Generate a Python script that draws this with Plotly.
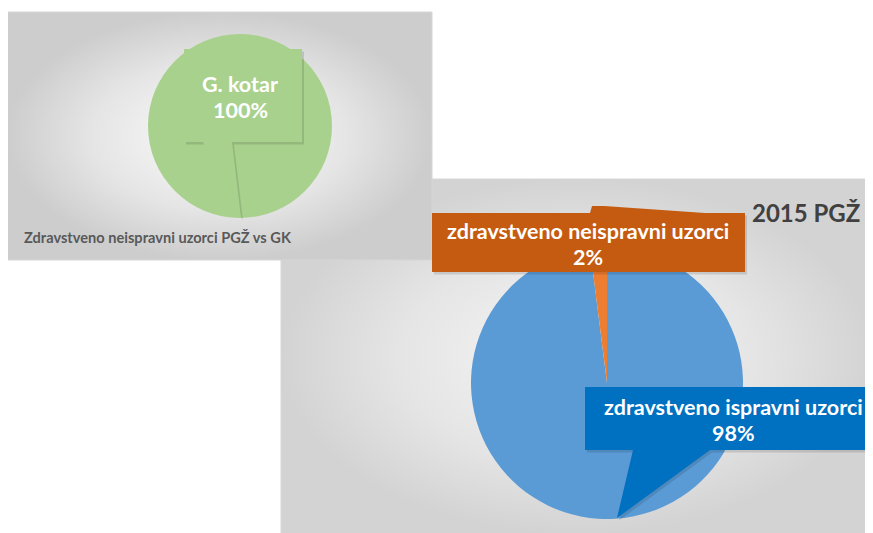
import plotly.graph_objects as go

# The page body has an 8px margin, so the figure is laid out at (8,8)
OFF = 8
W, H = 873, 533
FW, FH = W - OFF, H - OFF

# ---- data ----
left_labels = ["G. kotar"]
left_values = [100]
right_labels = ["zdravstveno ispravni uzorci", "zdravstveno neispravni uzorci"]
right_values = [98, 2]
left_title = "Zdravstveno neispravni uzorci PGŽ vs GK"
right_title = "2015 PGŽ"

GREEN = "#A9D18E"
BLUE = "#5B9BD5"
ORANGE = "#ED7D31"
BLUE_BOX = "#0070C0"
ORANGE_BOX = "#C55A11"
FONT = "Lato"


def px_x(v):
    return (v - OFF) / FW


def px_y(v):
    return 1 - (v - OFF) / FH


fig = go.Figure()


def panel(x0, y0, x1, y1, c_center, c_edge):
    fig.add_trace(go.Scatter(
        x=[x0, x1, x1, x0, x0], y=[y0, y0, y1, y1, y0],
        mode="lines", fill="toself", line=dict(width=1, color="#d6d6d6"),
        fillgradient=dict(type="radial", colorscale=[[0, c_center], [0.6, "#e5e5e5"], [1, c_edge]]),
        hoverinfo="skip", showlegend=False))


# right panel first (behind), left panel over it
panel(281, 179, 874, 534, "#f6f6f6", "#d3d3d3")
panel(7, 12, 432, 260, "#fcfcfc", "#cdcdcd")

# pies
fig.add_trace(go.Pie(
    labels=left_labels, values=left_values,
    marker=dict(colors=[GREEN], line=dict(width=0)),
    textinfo="none", hoverinfo="label+percent", sort=False,
    domain=dict(x=[px_x(148), px_x(332)], y=[px_y(218), px_y(34)]),
    showlegend=False))

fig.add_trace(go.Pie(
    labels=right_labels, values=right_values,
    marker=dict(colors=[BLUE, ORANGE], line=dict(width=0)),
    textinfo="none", hoverinfo="label+percent", sort=False,
    direction="clockwise", rotation=0,
    domain=dict(x=[px_x(471), px_x(743)], y=[px_y(519), px_y(247)]),
    showlegend=False))

# callouts
green_path = "M184,49 L302,49 L302,142 L232,142 L241,218 L203,142 L184,142 Z"
orange_path = "M432,213 L590,213 L592,206 L604,206 L705,213 L745,213 L745,272 L432,272 Z"
blue_path = "M585,387 L874,387 L874,450 L710,450 L617,518 L633,450 L585,450 Z"


def offset_path(path, dx, dy):
    out = []
    for tok in path.split(" "):
        cmd = tok[0] if tok[0].isalpha() else ""
        rest = tok[1:] if cmd else tok
        if "," in rest:
            a, b = rest.split(",")
            out.append(f"{cmd}{float(a)+dx:.1f},{float(b)+dy:.1f}")
        else:
            out.append(tok)
    return " ".join(out)


shapes = []
for path, col in [(green_path, GREEN), (orange_path, ORANGE_BOX), (blue_path, BLUE_BOX)]:
    shapes.append(dict(type="path", path=offset_path(path, 2, 2.5), xref="x", yref="y",
                       fillcolor="rgba(0,0,0,0.12)", line=dict(width=0), layer="above"))
    shapes.append(dict(type="path", path=path, xref="x", yref="y",
                       fillcolor=col, line=dict(width=0), layer="above"))

ann = []
white_bold = dict(family=FONT, size=21.5, color="white", weight="bold")
ann.append(dict(x=240, y=84, text=left_labels[0], font=white_bold))
ann.append(dict(x=240, y=110, text=f"{left_values[0] / sum(left_values) * 100:.0f}%", font=white_bold))

tot = sum(right_values)
ann.append(dict(x=588, y=231, text=right_labels[1], font=white_bold))
ann.append(dict(x=588, y=257, text=f"{right_values[1] / tot * 100:.0f}%", font=white_bold))
ann.append(dict(x=733, y=407, text=right_labels[0], font=white_bold))
ann.append(dict(x=733, y=433, text=f"{right_values[0] / tot * 100:.0f}%", font=white_bold))

ann.append(dict(x=22, y=237, text=left_title, xanchor="left",
                font=dict(family=FONT, size=14.6, color="#595959", weight="bold")))
ann.append(dict(x=806, y=212, text=right_title,
                font=dict(family=FONT, size=24, color="#404040", weight="bold")))

for a in ann:
    a.setdefault("xanchor", "center")
    a.update(xref="x", yref="y", yanchor="middle", showarrow=False)

fig.update_layout(
    shapes=shapes,
    annotations=ann,
    width=FW, height=FH,
    margin=dict(l=0, r=0, t=0, b=0),
    paper_bgcolor="white", plot_bgcolor="rgba(0,0,0,0)",
    xaxis=dict(range=[OFF, W], visible=False, fixedrange=True),
    yaxis=dict(range=[H, OFF], visible=False, fixedrange=True),
    showlegend=False,
)

fig.write_html("out.html")
